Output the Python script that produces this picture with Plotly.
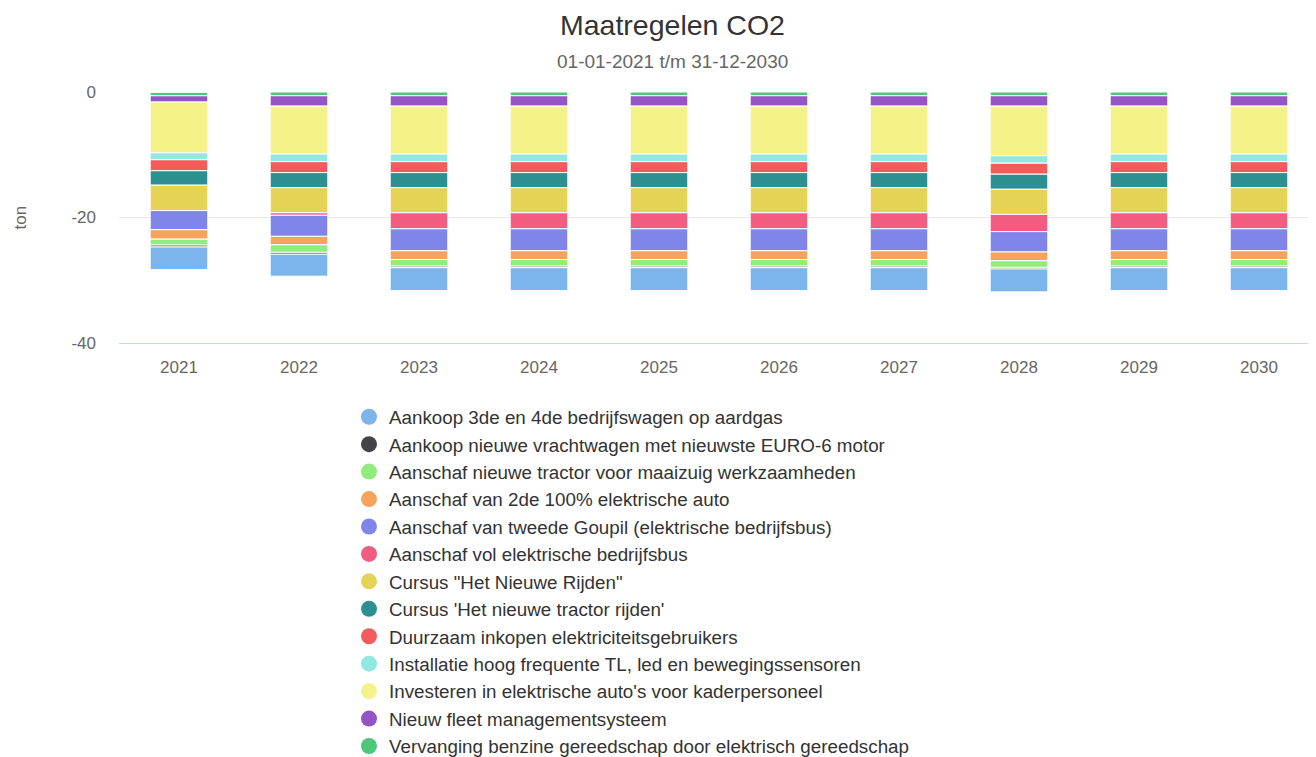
import plotly.graph_objects as go

years = ["2021", "2022", "2023", "2024", "2025", "2026", "2027", "2028", "2029", "2030"]

# values in ton CO2 (negative = reduction)
vervanging_benzine = [-0.6, -0.6, -0.6, -0.6, -0.6, -0.6, -0.6, -0.6, -0.6, -0.6]
nieuw_fleet = [-1.0, -1.65, -1.65, -1.65, -1.65, -1.65, -1.65, -1.65, -1.65, -1.65]
investeren_auto = [-8.1, -7.65, -7.65, -7.65, -7.65, -7.65, -7.65, -7.9, -7.65, -7.65]
installatie_tl = [-1.1, -1.2, -1.2, -1.2, -1.2, -1.2, -1.2, -1.2, -1.2, -1.2]
duurzaam_inkopen = [-1.75, -1.75, -1.75, -1.75, -1.75, -1.75, -1.75, -1.75, -1.75, -1.75]
cursus_tractor = [-2.3, -2.4, -2.4, -2.4, -2.4, -2.4, -2.4, -2.4, -2.4, -2.4]
cursus_rijden = [-4.05, -4.0, -4.0, -4.0, -4.0, -4.0, -4.0, -4.0, -4.0, -4.0]
vol_elektrisch_bus = [0, -0.4, -2.55, -2.55, -2.55, -2.55, -2.55, -2.75, -2.55, -2.55]
goupil = [-3.05, -3.35, -3.5, -3.5, -3.5, -3.5, -3.5, -3.25, -3.5, -3.5]
tweede_elektrische_auto = [-1.5, -1.35, -1.4, -1.4, -1.4, -1.4, -1.4, -1.4, -1.4, -1.4]
tractor_maaizuig = [-0.95, -1.2, -1.05, -1.05, -1.05, -1.05, -1.05, -1.05, -1.05, -1.05]
vrachtwagen_euro6 = [-0.3, -0.3, -0.25, -0.25, -0.25, -0.25, -0.25, -0.25, -0.25, -0.25]
bedrijfswagen_aardgas = [-3.6, -3.5, -3.65, -3.65, -3.65, -3.65, -3.65, -3.65, -3.65, -3.65]

# legend order (alphabetical)
names = [
    "Aankoop 3de en 4de bedrijfswagen op aardgas",
    "Aankoop nieuwe vrachtwagen met nieuwste EURO-6 motor",
    "Aanschaf nieuwe tractor voor maaizuig werkzaamheden",
    "Aanschaf van 2de 100% elektrische auto",
    "Aanschaf van tweede Goupil (elektrische bedrijfsbus)",
    "Aanschaf vol elektrische bedrijfsbus",
    "Cursus \"Het Nieuwe Rijden\"",
    "Cursus 'Het nieuwe tractor rijden'",
    "Duurzaam inkopen elektriciteitsgebruikers",
    "Installatie hoog frequente TL, led en bewegingssensoren",
    "Investeren in elektrische auto's voor kaderpersoneel",
    "Nieuw fleet managementsysteem",
    "Vervanging benzine gereedschap door elektrisch gereedschap",
]
colors = [
    "#7cb5ec", "#434348", "#90ed7d", "#f7a35c", "#8085e9", "#f15c80",
    "#e4d354", "#2b908f", "#f45b5b", "#91e8e1", "#f5f28a", "#9454c4", "#4dc87a",
]
values = [
    bedrijfswagen_aardgas, vrachtwagen_euro6, tractor_maaizuig, tweede_elektrische_auto,
    goupil, vol_elektrisch_bus, cursus_rijden, cursus_tractor, duurzaam_inkopen,
    installatie_tl, investeren_auto, nieuw_fleet, vervanging_benzine,
]

FONT = "Liberation Sans, Arial, Helvetica, sans-serif"
fig = go.Figure()

# bars: stacked from zero downward, last legend entry nearest to zero
for name, color, vals in reversed(list(zip(names, colors, values))):
    fig.add_trace(go.Bar(
        x=years, y=vals, name=name, legendgroup=name, showlegend=False,
        marker=dict(color=color, line=dict(color="white", width=1)),
    ))

# legend entries with round symbols
for name, color in zip(names, colors):
    fig.add_trace(go.Scatter(
        x=[None], y=[None], mode="markers", name=name, legendgroup=name,
        marker=dict(color=color, size=16, symbol="circle"),
    ))

L, T, B = 111, 84, 335          # plot area in figure pixels
PW = 1316 - L
PH = B - T

fig.update_layout(
    width=1316, height=757, autosize=False,
    margin=dict(l=L, r=0, t=T, b=757 - B, autoexpand=False),
    barmode="relative", bargap=0.52,
    paper_bgcolor="white", plot_bgcolor="white",
    font=dict(family=FONT, color="#666666"),
    showlegend=True,
    legend=dict(
        orientation="v", xref="container", yref="container",
        x=341 / 1316, xanchor="left", y=0, yanchor="bottom",
        font=dict(size=18.8, color="#333333", family=FONT),
        traceorder="normal", itemsizing="trace",
        bgcolor="rgba(0,0,0,0)",
    ),
    xaxis=dict(
        type="category", range=[-0.5, -0.5 + PW / 120], showgrid=False,
        showline=True, linecolor="#ccd6eb", linewidth=1,
        ticks="", tickfont=dict(size=17, color="#666666"), ticklabelstandoff=9,
        tickangle=0,
    ),
    yaxis=dict(
        range=[-40, 0], tickvals=[0, -20, -40], ticktext=["0", "-20", "-40"],
        showgrid=True, gridcolor="#e6e6e6", gridwidth=1, zeroline=False,
        showline=False, ticks="", tickfont=dict(size=17, color="#666666"),
        ticklabelstandoff=22,
    ),
    annotations=[
        dict(text="Maatregelen CO2", xref="paper", yref="paper",
             x=(664 - L) / PW, y=(B - 17) / PH, xanchor="center", yanchor="middle",
             showarrow=False, font=dict(size=28.5, color="#333333", family=FONT)),
        dict(text="01-01-2021 t/m 31-12-2030", xref="paper", yref="paper",
             x=(664 - L) / PW, y=(B - 53.5) / PH, xanchor="center", yanchor="middle",
             showarrow=False, font=dict(size=19, color="#666666", family=FONT)),
        dict(text="ton", xref="paper", yref="paper",
             x=(12 - L) / PW, y=0.5, xanchor="center", yanchor="middle",
             textangle=-90, showarrow=False, font=dict(size=17, color="#666666", family=FONT)),
    ],
)

fig.write_html("out.html")
